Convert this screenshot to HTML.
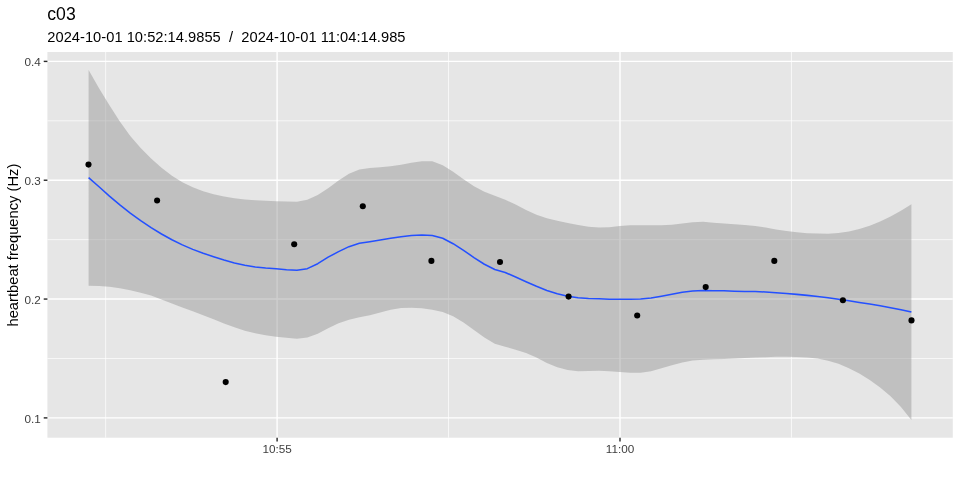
<!DOCTYPE html>
<html><head><meta charset="utf-8"><title>c03</title>
<style>
html,body{margin:0;padding:0;background:#fff;}
svg{display:block;}
text{font-family:"Liberation Sans",Arial,Helvetica,sans-serif;}
</style></head><body>
<svg width="960" height="480" viewBox="0 0 960 480">
<rect width="960" height="480" fill="#ffffff"/>
<rect x="47.4" y="52.0" width="905.4" height="385.7" fill="#E6E6E6"/>
<g stroke="#ffffff" stroke-width="0.71" fill="none">
<line x1="47.4" x2="952.8" y1="120.81" y2="120.81"/>
<line x1="47.4" x2="952.8" y1="239.65" y2="239.65"/>
<line x1="47.4" x2="952.8" y1="358.47" y2="358.47"/>
<line x1="105.65" x2="105.65" y1="52.0" y2="437.7"/>
<line x1="448.55" x2="448.55" y1="52.0" y2="437.7"/>
<line x1="791.45" x2="791.45" y1="52.0" y2="437.7"/>
</g>
<g stroke="#ffffff" stroke-width="1.42" fill="none">
<line x1="47.4" x2="952.8" y1="61.40" y2="61.40"/>
<line x1="47.4" x2="952.8" y1="180.23" y2="180.23"/>
<line x1="47.4" x2="952.8" y1="299.06" y2="299.06"/>
<line x1="47.4" x2="952.8" y1="417.89" y2="417.89"/>
<line x1="277.10" x2="277.10" y1="52.0" y2="437.7"/>
<line x1="620.00" x2="620.00" y1="52.0" y2="437.7"/>
</g>
<polygon points="88.60,70.00 99.02,88.17 109.43,105.20 119.85,121.49 130.26,136.10 140.68,148.11 151.09,158.53 161.51,167.65 171.92,175.66 182.34,182.26 192.75,187.15 203.17,191.18 213.58,194.22 224.00,196.51 234.41,198.29 244.83,199.49 255.24,200.23 265.66,200.77 276.07,201.18 286.49,201.49 296.90,201.80 307.32,199.68 317.73,194.96 328.15,188.25 338.56,180.46 348.98,173.76 359.39,169.49 369.81,167.99 380.23,167.19 390.64,166.29 401.06,164.69 411.47,162.79 421.89,161.30 432.30,161.30 442.72,165.33 453.13,171.73 463.55,179.23 473.96,186.34 484.38,191.72 494.79,195.82 505.21,199.72 515.62,204.52 526.04,210.02 536.45,214.72 546.87,218.31 557.28,220.81 567.70,223.01 578.11,225.01 588.53,226.70 598.94,227.50 609.36,227.30 619.77,226.00 630.19,225.20 640.61,225.20 651.02,225.30 661.44,225.30 671.85,224.70 682.27,223.50 692.68,222.30 703.10,221.80 713.51,222.70 723.93,223.50 734.34,224.20 744.76,225.00 755.17,226.00 765.59,227.59 776.00,229.39 786.42,231.01 796.83,232.25 807.25,233.15 817.66,233.62 828.08,233.79 838.49,233.04 848.91,231.58 859.32,228.98 869.74,225.68 880.15,221.53 890.57,216.44 900.98,210.69 911.40,204.20 911.40,420.00 900.98,406.88 890.57,396.34 880.15,387.48 869.74,379.96 859.32,373.62 848.91,368.29 838.49,363.71 828.08,360.64 817.66,358.53 807.25,357.50 796.83,357.00 786.42,356.84 776.00,356.84 765.59,357.13 755.17,357.46 744.76,357.89 734.34,358.48 723.93,358.93 713.51,359.29 703.10,359.66 692.68,360.47 682.27,362.59 671.85,365.29 661.44,368.29 651.02,371.30 640.61,372.80 630.19,372.70 619.77,372.00 609.36,371.30 598.94,370.80 588.53,371.00 578.11,371.20 567.70,370.01 557.28,367.21 546.87,363.02 536.45,357.53 526.04,353.01 515.62,349.71 505.21,346.71 494.79,343.72 484.38,337.53 473.96,330.04 463.55,322.53 453.13,316.33 442.72,312.02 432.30,309.71 421.89,308.30 411.47,307.70 401.06,308.00 390.64,309.69 380.23,312.58 369.81,315.29 359.39,317.19 348.98,319.68 338.56,323.27 328.15,328.27 317.73,333.67 307.32,337.49 296.90,338.70 286.49,337.81 276.07,336.71 265.66,335.21 255.24,333.32 244.83,330.82 234.41,327.34 224.00,323.42 213.58,319.33 203.17,315.16 192.75,311.23 182.34,307.38 171.92,303.44 161.51,299.44 151.09,295.62 140.68,292.77 130.26,290.34 119.85,288.18 109.43,286.87 99.02,286.12 88.60,285.80" fill="#909090" fill-opacity="0.44"/>
<polyline points="88.60,177.60 99.02,186.79 109.43,196.17 119.85,204.96 130.26,213.20 140.68,220.65 151.09,227.56 161.51,233.97 171.92,239.74 182.34,244.90 192.75,249.38 203.17,253.19 213.58,256.70 224.00,260.02 234.41,262.94 244.83,265.28 255.24,266.94 265.66,267.99 276.07,268.75 286.49,269.68 296.90,270.30 307.32,268.67 317.73,263.68 328.15,257.17 338.56,251.67 348.98,246.67 359.39,243.28 369.81,241.68 380.23,240.00 390.64,238.29 401.06,236.69 411.47,235.50 421.89,235.00 432.30,235.51 442.72,238.31 453.13,243.72 463.55,250.33 473.96,257.54 484.38,264.24 494.79,269.53 505.21,272.50 515.62,277.01 526.04,281.72 536.45,286.32 546.87,290.52 557.28,293.82 567.70,296.30 578.11,297.80 588.53,298.50 598.94,298.80 609.36,299.20 619.77,299.20 630.19,299.20 640.61,299.00 651.02,298.00 661.44,296.19 671.85,294.19 682.27,292.29 692.68,291.00 703.10,290.50 713.51,290.70 723.93,290.80 734.34,291.20 744.76,291.50 755.17,291.58 765.59,291.98 776.00,292.68 786.42,293.50 796.83,294.38 807.25,295.36 817.66,296.51 828.08,297.82 838.49,299.28 848.91,300.81 859.32,302.41 869.74,304.11 880.15,305.86 890.57,307.70 900.98,309.70 911.40,312.00" fill="none" stroke="#2450FF" stroke-width="1.55" stroke-linejoin="round"/>
<g fill="#000000">
<circle cx="88.5" cy="164.6" r="3.05"/>
<circle cx="157.1" cy="200.5" r="3.05"/>
<circle cx="225.7" cy="382.1" r="3.05"/>
<circle cx="294.2" cy="244.3" r="3.05"/>
<circle cx="362.8" cy="206.3" r="3.05"/>
<circle cx="431.4" cy="260.9" r="3.05"/>
<circle cx="500.0" cy="262.0" r="3.05"/>
<circle cx="568.6" cy="296.6" r="3.05"/>
<circle cx="637.2" cy="315.5" r="3.05"/>
<circle cx="705.7" cy="287.1" r="3.05"/>
<circle cx="774.3" cy="260.9" r="3.05"/>
<circle cx="842.9" cy="300.2" r="3.05"/>
<circle cx="911.5" cy="320.4" r="3.05"/>
</g>
<g stroke="#2A2A2A" stroke-width="1.42">
<line x1="43.73" x2="47.4" y1="61.40" y2="61.40"/>
<line x1="43.73" x2="47.4" y1="180.23" y2="180.23"/>
<line x1="43.73" x2="47.4" y1="299.06" y2="299.06"/>
<line x1="43.73" x2="47.4" y1="417.89" y2="417.89"/>
<line x1="277.10" x2="277.10" y1="437.7" y2="441.60"/>
<line x1="620.00" x2="620.00" y1="437.7" y2="441.60"/>
</g>
<g fill="#3D3D3D" font-size="11.73">
<text x="40.80" y="66.40" text-anchor="end">0.4</text>
<text x="40.80" y="185.23" text-anchor="end">0.3</text>
<text x="40.80" y="304.06" text-anchor="end">0.2</text>
<text x="40.80" y="422.89" text-anchor="end">0.1</text>
<text x="277.10" y="452.9" text-anchor="middle">10:55</text>
<text x="620.00" y="452.9" text-anchor="middle">11:00</text>
</g>
<text x="47.3" y="19.75" font-size="17.6" fill="#000">c03</text>
<text x="47.3" y="41.9" font-size="14.67" fill="#000" letter-spacing="0.03" xml:space="preserve" style="white-space:pre">2024-10-01 10:52:14.9855  /  2024-10-01 11:04:14.985</text>
<text transform="translate(18.1,245.1) rotate(-90)" font-size="14.67" fill="#000" letter-spacing="0.03" text-anchor="middle">heartbeat frequency (Hz)</text>
</svg>
</body></html>
